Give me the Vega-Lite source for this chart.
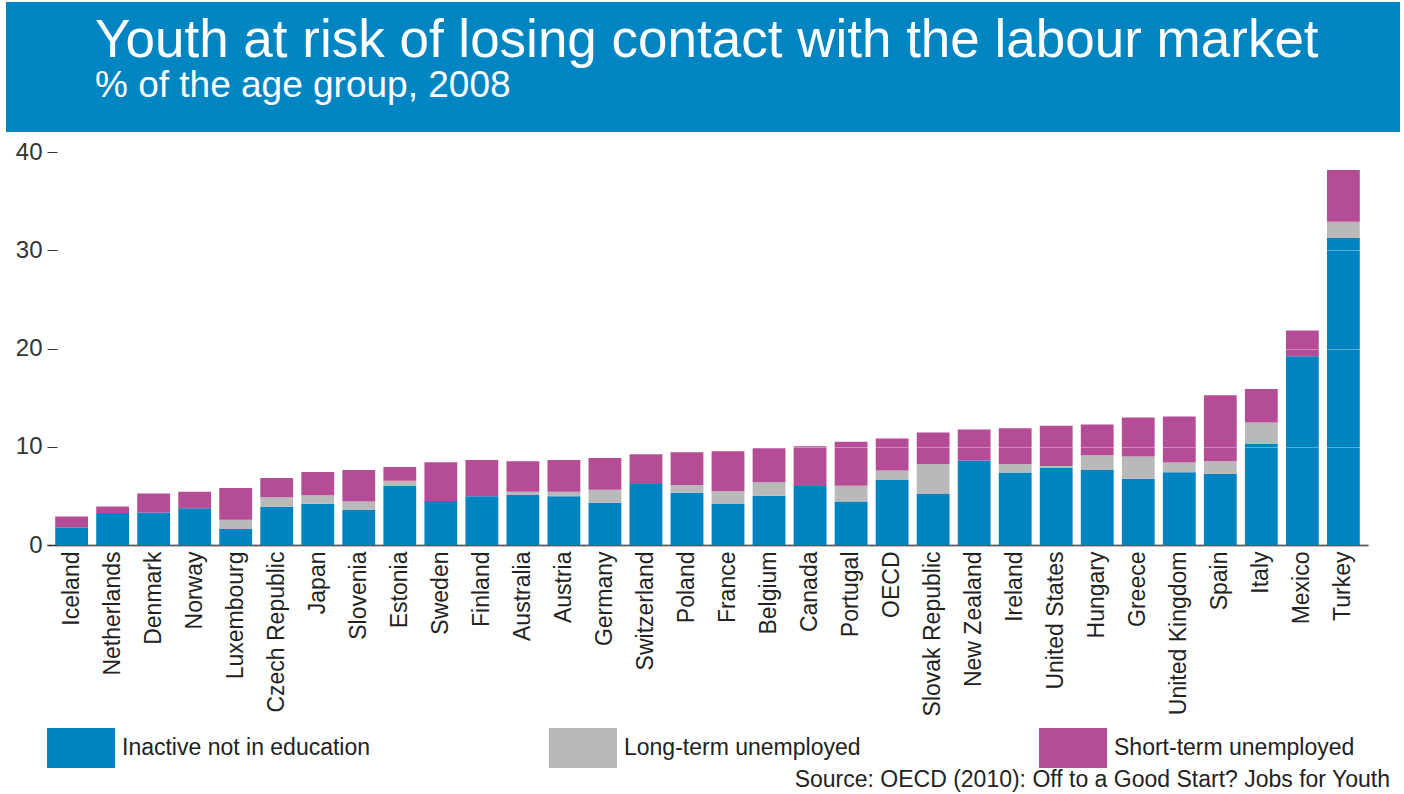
{
  "$schema": "https://vega.github.io/schema/vega-lite/v6.json",
  "padding": {"left": 6, "top": 2, "right": 0, "bottom": 0},
  "background": "#ffffff",
  "bounds": "flush",
  "spacing": 20,
  "config": {
    "font": "Liberation Sans",
    "view": {"stroke": null}
  },
  "vconcat": [
    {
      "width": 1394,
      "height": 130,
      "view": {"fill": "#0085c3", "stroke": null},
      "title": {
        "text": "Youth at risk of losing contact with the labour market",
        "subtitle": "% of the age group, 2008",
        "orient": "top",
        "anchor": "start",
        "frame": "group",
        "offset": -102,
        "dx": 89,
        "fontSize": 53,
        "fontWeight": "normal",
        "color": "#ffffff",
        "subtitleFontSize": 37,
        "subtitleColor": "#ffffff",
        "subtitlePadding": 0,
        "font": "Liberation Sans",
        "subtitleFont": "Liberation Sans"
      },
      "data": {"values": [{"t": ""}]},
      "mark": {"type": "text"},
      "encoding": {"text": {"field": "t"}}
    },
    {
      "width": 1394,
      "height": 393,
      "title": {
        "text": "Source: OECD (2010): Off to a Good Start? Jobs for Youth",
        "orient": "bottom",
        "anchor": "end",
        "frame": "group",
        "offset": 53,
        "dx": -10,
        "fontSize": 23,
        "fontWeight": "normal",
        "color": "#222222"
      },
      "data": {
        "values": [
          {"country": "Iceland", "type": "Inactive not in education", "value": 1.79},
          {"country": "Iceland", "type": "Long-term unemployed", "value": 0},
          {"country": "Iceland", "type": "Short-term unemployed", "value": 1.11},
          {"country": "Netherlands", "type": "Inactive not in education", "value": 3.26},
          {"country": "Netherlands", "type": "Long-term unemployed", "value": 0},
          {"country": "Netherlands", "type": "Short-term unemployed", "value": 0.67},
          {"country": "Denmark", "type": "Inactive not in education", "value": 3.32},
          {"country": "Denmark", "type": "Long-term unemployed", "value": 0},
          {"country": "Denmark", "type": "Short-term unemployed", "value": 1.91},
          {"country": "Norway", "type": "Inactive not in education", "value": 3.73},
          {"country": "Norway", "type": "Long-term unemployed", "value": 0},
          {"country": "Norway", "type": "Short-term unemployed", "value": 1.70},
          {"country": "Luxembourg", "type": "Inactive not in education", "value": 1.63},
          {"country": "Luxembourg", "type": "Long-term unemployed", "value": 0.95},
          {"country": "Luxembourg", "type": "Short-term unemployed", "value": 3.23},
          {"country": "Czech Republic", "type": "Inactive not in education", "value": 3.90},
          {"country": "Czech Republic", "type": "Long-term unemployed", "value": 0.95},
          {"country": "Czech Republic", "type": "Short-term unemployed", "value": 1.97},
          {"country": "Japan", "type": "Inactive not in education", "value": 4.21},
          {"country": "Japan", "type": "Long-term unemployed", "value": 0.85},
          {"country": "Japan", "type": "Short-term unemployed", "value": 2.38},
          {"country": "Slovenia", "type": "Inactive not in education", "value": 3.60},
          {"country": "Slovenia", "type": "Long-term unemployed", "value": 0.84},
          {"country": "Slovenia", "type": "Short-term unemployed", "value": 3.20},
          {"country": "Estonia", "type": "Inactive not in education", "value": 6.01},
          {"country": "Estonia", "type": "Long-term unemployed", "value": 0.54},
          {"country": "Estonia", "type": "Short-term unemployed", "value": 1.39},
          {"country": "Sweden", "type": "Inactive not in education", "value": 4.48},
          {"country": "Sweden", "type": "Long-term unemployed", "value": 0},
          {"country": "Sweden", "type": "Short-term unemployed", "value": 3.94},
          {"country": "Finland", "type": "Inactive not in education", "value": 4.95},
          {"country": "Finland", "type": "Long-term unemployed", "value": 0},
          {"country": "Finland", "type": "Short-term unemployed", "value": 3.71},
          {"country": "Australia", "type": "Inactive not in education", "value": 5.09},
          {"country": "Australia", "type": "Long-term unemployed", "value": 0.34},
          {"country": "Australia", "type": "Short-term unemployed", "value": 3.09},
          {"country": "Austria", "type": "Inactive not in education", "value": 4.95},
          {"country": "Austria", "type": "Long-term unemployed", "value": 0.48},
          {"country": "Austria", "type": "Short-term unemployed", "value": 3.23},
          {"country": "Germany", "type": "Inactive not in education", "value": 4.31},
          {"country": "Germany", "type": "Long-term unemployed", "value": 1.32},
          {"country": "Germany", "type": "Short-term unemployed", "value": 3.23},
          {"country": "Switzerland", "type": "Inactive not in education", "value": 6.21},
          {"country": "Switzerland", "type": "Long-term unemployed", "value": 0},
          {"country": "Switzerland", "type": "Short-term unemployed", "value": 3.02},
          {"country": "Poland", "type": "Inactive not in education", "value": 5.33},
          {"country": "Poland", "type": "Long-term unemployed", "value": 0.78},
          {"country": "Poland", "type": "Short-term unemployed", "value": 3.33},
          {"country": "France", "type": "Inactive not in education", "value": 4.17},
          {"country": "France", "type": "Long-term unemployed", "value": 1.29},
          {"country": "France", "type": "Short-term unemployed", "value": 4.08},
          {"country": "Belgium", "type": "Inactive not in education", "value": 5.02},
          {"country": "Belgium", "type": "Long-term unemployed", "value": 1.36},
          {"country": "Belgium", "type": "Short-term unemployed", "value": 3.47},
          {"country": "Canada", "type": "Inactive not in education", "value": 6.01},
          {"country": "Canada", "type": "Long-term unemployed", "value": 0},
          {"country": "Canada", "type": "Short-term unemployed", "value": 4.04},
          {"country": "Portugal", "type": "Inactive not in education", "value": 4.44},
          {"country": "Portugal", "type": "Long-term unemployed", "value": 1.60},
          {"country": "Portugal", "type": "Short-term unemployed", "value": 4.48},
          {"country": "OECD", "type": "Inactive not in education", "value": 6.62},
          {"country": "OECD", "type": "Long-term unemployed", "value": 0.95},
          {"country": "OECD", "type": "Short-term unemployed", "value": 3.26},
          {"country": "Slovak Republic", "type": "Inactive not in education", "value": 5.20},
          {"country": "Slovak Republic", "type": "Long-term unemployed", "value": 3.05},
          {"country": "Slovak Republic", "type": "Short-term unemployed", "value": 3.19},
          {"country": "New Zealand", "type": "Inactive not in education", "value": 8.59},
          {"country": "New Zealand", "type": "Long-term unemployed", "value": 0},
          {"country": "New Zealand", "type": "Short-term unemployed", "value": 3.16},
          {"country": "Ireland", "type": "Inactive not in education", "value": 7.37},
          {"country": "Ireland", "type": "Long-term unemployed", "value": 0.88},
          {"country": "Ireland", "type": "Short-term unemployed", "value": 3.63},
          {"country": "United States", "type": "Inactive not in education", "value": 7.84},
          {"country": "United States", "type": "Long-term unemployed", "value": 0.21},
          {"country": "United States", "type": "Short-term unemployed", "value": 4.10},
          {"country": "Hungary", "type": "Inactive not in education", "value": 7.64},
          {"country": "Hungary", "type": "Long-term unemployed", "value": 1.49},
          {"country": "Hungary", "type": "Short-term unemployed", "value": 3.13},
          {"country": "Greece", "type": "Inactive not in education", "value": 6.75},
          {"country": "Greece", "type": "Long-term unemployed", "value": 2.25},
          {"country": "Greece", "type": "Short-term unemployed", "value": 3.97},
          {"country": "United Kingdom", "type": "Inactive not in education", "value": 7.40},
          {"country": "United Kingdom", "type": "Long-term unemployed", "value": 0.99},
          {"country": "United Kingdom", "type": "Short-term unemployed", "value": 4.68},
          {"country": "Spain", "type": "Inactive not in education", "value": 7.23},
          {"country": "Spain", "type": "Long-term unemployed", "value": 1.29},
          {"country": "Spain", "type": "Short-term unemployed", "value": 6.72},
          {"country": "Italy", "type": "Inactive not in education", "value": 10.29},
          {"country": "Italy", "type": "Long-term unemployed", "value": 2.17},
          {"country": "Italy", "type": "Short-term unemployed", "value": 3.43},
          {"country": "Mexico", "type": "Inactive not in education", "value": 19.22},
          {"country": "Mexico", "type": "Long-term unemployed", "value": 0},
          {"country": "Mexico", "type": "Short-term unemployed", "value": 2.61},
          {"country": "Turkey", "type": "Inactive not in education", "value": 31.24},
          {"country": "Turkey", "type": "Long-term unemployed", "value": 1.67},
          {"country": "Turkey", "type": "Short-term unemployed", "value": 5.26}
        ]
      },
      "mark": {"type": "bar"},
      "encoding": {
        "x": {
          "field": "country",
          "type": "nominal",
          "sort": null,
          "scale": {"range": [41, 1362], "paddingInner": 0.2, "paddingOuter": 0.2},
          "axis": {
            "title": null,
            "labelAngle": 270,
            "labelAlign": "right",
            "labelBaseline": "middle",
            "labelPadding": 6,
            "labelFontSize": 23,
            "labelColor": "#222222",
            "labelLimit": 400,
            "ticks": false,
            "grid": false,
            "domainColor": "#000000",
            "domainWidth": 1.5
          }
        },
        "y": {
          "field": "value",
          "type": "quantitative",
          "stack": "zero",
          "scale": {"domain": [0, 40], "nice": false},
          "axis": {
            "title": null,
            "values": [0, 10, 20, 30, 40],
            "offset": -41,
            "domain": false,
            "tickSize": -10,
            "tickColor": "#333333",
            "labelPadding": 15,
            "labelFontSize": 24,
            "labelColor": "#333333",
            "grid": true,
            "gridColor": "#ffffff",
            "gridOpacity": 0.35,
            "zindex": 1
          }
        },
        "color": {
          "field": "type",
          "type": "nominal",
          "scale": {
            "domain": ["Inactive not in education", "Long-term unemployed", "Short-term unemployed"],
            "range": ["#0083c1", "#b9b9b9", "#b44d95"]
          },
          "legend": {
            "title": null,
            "orient": "none",
            "legendX": 41,
            "legendY": 712,
            "direction": "horizontal",
            "padding": 0,
            "columnPadding": 178,
            "symbolType": "M-1,-0.588H1V0.588H-1Z",
            "symbolSize": 4624,
            "symbolStrokeWidth": 0,
            "symbolOpacity": 1,
            "labelOffset": 7,
            "labelFontSize": 23,
            "labelColor": "#222222",
            "labelLimit": 400
          }
        },
        "order": {"field": "type"}
      }
    }
  ]
}
